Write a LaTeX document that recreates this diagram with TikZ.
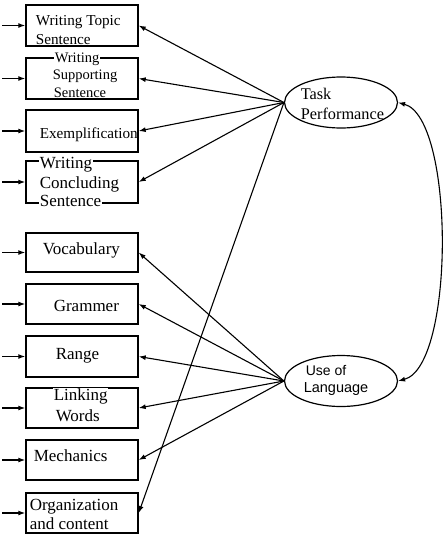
\documentclass[tikz,border=0pt]{standalone}
\usepackage{fontspec}
\setmainfont{Liberation Serif}
\newfontfamily\labelsans{Liberation Sans}
\usetikzlibrary{arrows.meta,shapes.geometric}
\begin{document}
\begin{tikzpicture}[x=1pt,y=-1pt,
  box/.style={draw, line width=1.4pt, minimum width=112pt, inner sep=0pt},
  latent/.style={draw, ellipse, line width=1.2pt, minimum width=113pt, minimum height=51pt, inner sep=0pt},
  lbl/.style={anchor=base west, inner sep=0.6pt, font=\fontsize{17}{19}\selectfont},
  lblmid/.style={lbl, font=\fontsize{15.2}{17}\selectfont},
  lblsm/.style={lbl, font=\fontsize{14.5}{16}\selectfont},
  cut/.style={fill=white},
  load/.style={-{Latex[length=7pt,width=5pt]}, line width=1.1pt},
  err/.style={-{Latex[length=7pt,width=5pt]}, line width=1.3pt}
]
\useasboundingbox (0,0) rectangle (445,541);

% observed indicators
\node[box, minimum height=41pt] (b1)  at (82,25.5)  {};
\node[box, minimum height=41pt] (b2)  at (82,78.5)  {};
\node[box, minimum height=42pt] (b3)  at (82,131)   {};
\node[box, minimum height=42pt] (b4)  at (82,182)   {};
\node[box, minimum height=39pt] (b5)  at (82,252.5) {};
\node[box, minimum height=40pt] (b6)  at (82,304)   {};
\node[box, minimum height=41pt] (b7)  at (82,356.5) {};
\node[box, minimum height=40pt] (b8)  at (82,408)   {};
\node[box, minimum height=40pt] (b9)  at (82,460)   {};
\node[box, minimum height=40pt] (b10) at (82,513)   {};

% indicator labels
\node[lblmid] (t1a) at (35,25) {Writing Topic};
\node[lblmid] (t1b) at (35,44) {Sentence};
\node[lblsm,cut] (t2a) at (54,62) {Writing};
\node[lblsm,cut] (t2b) at (52,79) {Supporting};
\node[lblsm,cut] (t2c) at (53,97) {Sentence};
\node[lblmid] (t3) at (39,138) {Exemplification};
\node[lbl,cut] (t4a) at (39,168) {Writing};
\node[lbl] (t4b) at (39,188) {Concluding};
\node[lbl,cut] (t4c) at (39,206) {Sentence};
\node[lbl] (t5) at (42,254) {Vocabulary};
\node[lbl] (t6) at (53,311) {Grammer};
\node[lbl] (t7) at (55,359) {Range};
\node[lbl,cut] (t8a) at (53,400) {Linking};
\node[lbl] (t8b) at (55,421) {Words};
\node[lbl] (t9) at (33,461) {Mechanics};
\node[lbl] (t10a) at (29,510) {Organization};
\node[lbl] (t10b) at (29,529) {and content};

% latent factors
\node[latent] (tp) at (341,102.5) {};
\node[lbl, font=\fontsize{16.3}{18}\selectfont] (tpa) at (300,99) {Task};
\node[lbl, font=\fontsize{16.3}{18}\selectfont] (tpb) at (300,119) {Performance};
\node[latent] (ul) at (341,381) {};
\node[lbl, font=\labelsans\fontsize{14}{16}\selectfont] (ula) at (305,375) {Use of};
\node[lbl, font=\labelsans\fontsize{14.5}{16}\selectfont] (ulb) at (303,392) {Language};

% error terms
\foreach \b in {b1,b2,b3,b4,b5,b6,b7,b8,b9,b10}
  \draw[err] (\b.west) ++(-23,0) coordinate (e\b) -- (\b.west);

% loadings of Task Performance
\foreach \b in {b1,b2,b3,b4,b10}
  \draw[load] (tp.west) -- (\b.east);

% loadings of Use of Language
\foreach \b in {b5,b6,b7,b8,b9}
  \draw[load] (ul.west) -- (\b.east);

% factor covariance
\draw[{Latex[length=7pt,width=5pt]}-{Latex[length=7pt,width=5pt]}, line width=1.1pt]
  (tp.east) .. controls (455,118) and (455,366) .. (ul.east);
\end{tikzpicture}
\end{document}
